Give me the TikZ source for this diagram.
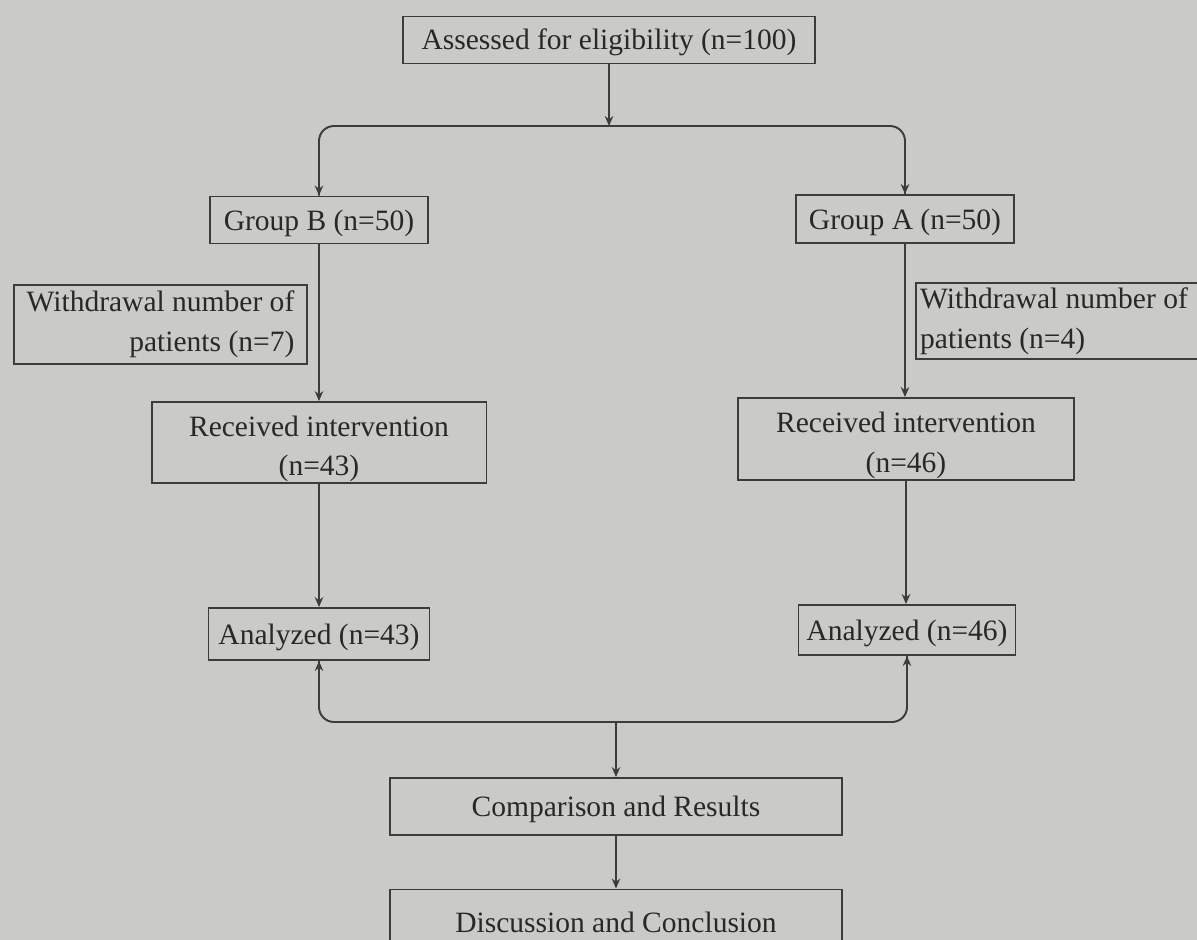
\documentclass[tikz,border=0pt]{standalone}
\usepackage{fontspec}
\setmainfont{Liberation Serif}
\usetikzlibrary{arrows.meta}
\definecolor{bg}{RGB}{202,202,199}
\definecolor{ink}{RGB}{60,60,60}
\definecolor{txt}{RGB}{40,40,40}
\newcommand{\stA}{\rule{0pt}{15pt}}
\newcommand{\stB}{\rule{0pt}{19pt}}
\tikzset{
  box/.style={draw=ink, line width=1.1pt, text=txt, inner sep=0pt, align=center,
    font=\fontsize{16.8}{22.5}\selectfont},
  conn/.style={draw=ink, line width=1.1pt, -{Stealth[length=0.2cm,width=0.17cm]}},
  link/.style={draw=ink, line width=1.1pt, rounded corners=0.3cm}
}
\begin{document}
\begin{tikzpicture}[x=0.02cm,y=-0.02cm]
\useasboundingbox (0,0) rectangle (1197,940);
\clip (0,0) rectangle (1197,940);
\fill[bg] (0,0) rectangle (1197,940);

\node[box, minimum width=8.24cm, minimum height=0.94cm] (top) at (609,40) {\stA Assessed for eligibility (n=100)};
\node[box, minimum width=4.36cm, minimum height=0.94cm] (grpB) at (319,220) {\stA Group B (n=50)};
\node[box, minimum width=4.36cm, minimum height=0.96cm] (grpA) at (905,219) {\stA Group A (n=50)};
\node[box, minimum width=5.86cm, minimum height=1.58cm, align=right] (wdB) at (160.5,324.5) {Withdrawal number of\\patients (n=7)};
\node[box, minimum width=5.88cm, minimum height=1.52cm, align=left] (wdA) at (1063,321) {Withdrawal number of\hspace*{0.36cm}\\patients (n=4)};
\node[box, minimum width=6.7cm, minimum height=1.62cm] (recB) at (319,442.5) {\stB Received intervention\\(n=43)};
\node[box, minimum width=6.72cm, minimum height=1.64cm] (recA) at (906,439) {\stB Received intervention\\(n=46)};
\node[box, minimum width=4.42cm, minimum height=1.04cm] (anaB) at (319,634) {\stA Analyzed (n=43)};
\node[box, minimum width=4.34cm, minimum height=1.0cm] (anaA) at (907,630) {\stA Analyzed (n=46)};
\node[box, minimum width=9.04cm, minimum height=1.14cm] (comp) at (616,806.5) {\stA Comparison and Results};
\node[box, minimum width=9.04cm, minimum height=1.3cm, text depth=0pt] (disc) at (616,922) {Discussion and Conclusion};

\coordinate (split) at (top.south |- 0,126);
\coordinate (merge) at (comp.north |- 0,722);

\draw[conn] (top.south) -- (split);
\draw[link] (split) -| (grpB.north);
\draw[link] (split) -| (grpA.north);
\draw[conn] (grpB.north |- 0,150) -- (grpB.north);
\draw[conn] (grpA.north |- 0,150) -- (grpA.north);
\draw[conn] (grpB.south) -- (grpB.south |- recB.north);
\draw[conn] (grpA.south) -- (grpA.south |- recA.north);
\draw[conn] (recB.south) -- (recB.south |- anaB.north);
\draw[conn] (recA.south) -- (recA.south |- anaA.north);
\draw[link] (merge) -| (anaB.south);
\draw[link] (merge) -| (anaA.south);
\draw[conn] (anaB.south |- 0,690) -- (anaB.south);
\draw[conn] (anaA.south |- 0,690) -- (anaA.south);
\draw[conn] (merge) -- (comp.north);
\draw[conn] (comp.south) -- (disc.north);
\end{tikzpicture}
\end{document}
